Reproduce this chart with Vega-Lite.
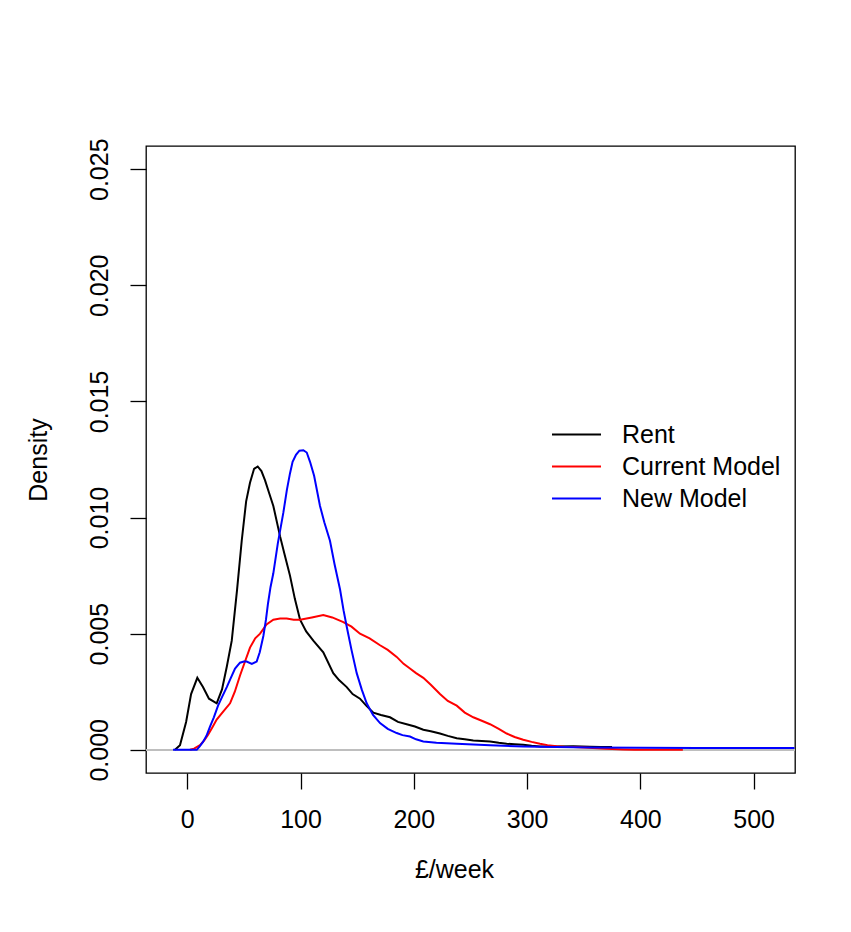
{
  "$schema": "https://vega.github.io/schema/vega-lite/v6.json",
  "width": 649,
  "height": 627,
  "autosize": {"type": "none"},
  "padding": {"left": 146, "top": 146, "right": 56, "bottom": 159},
  "background": "white",
  "config": {
    "font": "Liberation Sans",
    "view": {"stroke": "#000", "strokeWidth": 1.3},
    "axis": {"domain": false, "grid": false, "tickColor": "#000", "tickSize": 16, "tickWidth": 1.3, "labelFontSize": 25, "labelColor": "#000", "labelFont": "Liberation Sans", "titleFontSize": 25, "titleFontWeight": "normal", "titleColor": "#000", "titleFont": "Liberation Sans"}
  },
  "data": {"values": [
    {"x": -10.8, "d": 0, "s": "Rent"}, {"x": -6.4, "d": 0.0002, "s": "Rent"}, {"x": -1, "d": 0.0012, "s": "Rent"}, {"x": 3.4, "d": 0.0024, "s": "Rent"}, {"x": 8.9, "d": 0.0031, "s": "Rent"}, {"x": 13.9, "d": 0.0027, "s": "Rent"}, {"x": 19.2, "d": 0.0022, "s": "Rent"}, {"x": 26, "d": 0.002, "s": "Rent"}, {"x": 30.7, "d": 0.0026, "s": "Rent"}, {"x": 35, "d": 0.0036, "s": "Rent"}, {"x": 39.3, "d": 0.0047, "s": "Rent"}, {"x": 44, "d": 0.0069, "s": "Rent"}, {"x": 48.1, "d": 0.009, "s": "Rent"}, {"x": 52, "d": 0.0107, "s": "Rent"}, {"x": 55.4, "d": 0.0115, "s": "Rent"}, {"x": 59, "d": 0.0121, "s": "Rent"}, {"x": 62.2, "d": 0.0122, "s": "Rent"}, {"x": 65.5, "d": 0.012, "s": "Rent"}, {"x": 68.7, "d": 0.0116, "s": "Rent"}, {"x": 72, "d": 0.0111, "s": "Rent"}, {"x": 76, "d": 0.0105, "s": "Rent"}, {"x": 81.9, "d": 0.0092, "s": "Rent"}, {"x": 86, "d": 0.0084, "s": "Rent"}, {"x": 90.7, "d": 0.0075, "s": "Rent"}, {"x": 95, "d": 0.0065, "s": "Rent"}, {"x": 99.6, "d": 0.0056, "s": "Rent"}, {"x": 105, "d": 0.0051, "s": "Rent"}, {"x": 111.3, "d": 0.0047, "s": "Rent"}, {"x": 120.1, "d": 0.0042, "s": "Rent"}, {"x": 128.9, "d": 0.0033, "s": "Rent"}, {"x": 134, "d": 0.003, "s": "Rent"}, {"x": 140.8, "d": 0.0027, "s": "Rent"}, {"x": 146, "d": 0.0024, "s": "Rent"}, {"x": 152.5, "d": 0.0022, "s": "Rent"}, {"x": 158, "d": 0.0019, "s": "Rent"}, {"x": 164.3, "d": 0.0016, "s": "Rent"}, {"x": 171, "d": 0.0015, "s": "Rent"}, {"x": 179, "d": 0.0014, "s": "Rent"}, {"x": 186, "d": 0.0012, "s": "Rent"}, {"x": 193.7, "d": 0.0011, "s": "Rent"}, {"x": 201, "d": 0.001, "s": "Rent"}, {"x": 208.4, "d": 0.00086, "s": "Rent"}, {"x": 215, "d": 0.0008, "s": "Rent"}, {"x": 223.1, "d": 0.0007, "s": "Rent"}, {"x": 230, "d": 0.0006, "s": "Rent"}, {"x": 237.9, "d": 0.0005, "s": "Rent"}, {"x": 245, "d": 0.00045, "s": "Rent"}, {"x": 252.5, "d": 0.0004, "s": "Rent"}, {"x": 260, "d": 0.00038, "s": "Rent"}, {"x": 267.3, "d": 0.00036, "s": "Rent"}, {"x": 275, "d": 0.0003, "s": "Rent"}, {"x": 282, "d": 0.00026, "s": "Rent"}, {"x": 289, "d": 0.00024, "s": "Rent"}, {"x": 296.6, "d": 0.00022, "s": "Rent"}, {"x": 304, "d": 0.00017, "s": "Rent"}, {"x": 311.4, "d": 0.00014, "s": "Rent"}, {"x": 326.1, "d": 0.00014, "s": "Rent"}, {"x": 340.8, "d": 0.00015, "s": "Rent"}, {"x": 355.5, "d": 0.00013, "s": "Rent"}, {"x": 365, "d": 0.00012, "s": "Rent"}, {"x": 375, "d": 0.00012, "s": "Rent"},
    {"x": 2.5, "d": 0, "s": "Current Model"}, {"x": 6, "d": 0.00005, "s": "Current Model"}, {"x": 11.3, "d": 0.0002, "s": "Current Model"}, {"x": 15, "d": 0.0004, "s": "Current Model"}, {"x": 18.4, "d": 0.00065, "s": "Current Model"}, {"x": 22, "d": 0.00095, "s": "Current Model"}, {"x": 26, "d": 0.0013, "s": "Current Model"}, {"x": 31, "d": 0.0016, "s": "Current Model"}, {"x": 37.8, "d": 0.002, "s": "Current Model"}, {"x": 42, "d": 0.0025, "s": "Current Model"}, {"x": 46.6, "d": 0.0032, "s": "Current Model"}, {"x": 51, "d": 0.0038, "s": "Current Model"}, {"x": 55.4, "d": 0.0044, "s": "Current Model"}, {"x": 60, "d": 0.0048, "s": "Current Model"}, {"x": 64.3, "d": 0.005, "s": "Current Model"}, {"x": 70, "d": 0.0054, "s": "Current Model"}, {"x": 76, "d": 0.0056, "s": "Current Model"}, {"x": 82, "d": 0.00565, "s": "Current Model"}, {"x": 87.8, "d": 0.00565, "s": "Current Model"}, {"x": 94, "d": 0.0056, "s": "Current Model"}, {"x": 99.6, "d": 0.0056, "s": "Current Model"}, {"x": 110, "d": 0.0057, "s": "Current Model"}, {"x": 120.1, "d": 0.0058, "s": "Current Model"}, {"x": 128, "d": 0.0057, "s": "Current Model"}, {"x": 137.8, "d": 0.0055, "s": "Current Model"}, {"x": 145, "d": 0.0053, "s": "Current Model"}, {"x": 152.5, "d": 0.005, "s": "Current Model"}, {"x": 161, "d": 0.0048, "s": "Current Model"}, {"x": 170.2, "d": 0.0045, "s": "Current Model"}, {"x": 177, "d": 0.0043, "s": "Current Model"}, {"x": 184.9, "d": 0.004, "s": "Current Model"}, {"x": 191, "d": 0.0037, "s": "Current Model"}, {"x": 196.6, "d": 0.0035, "s": "Current Model"}, {"x": 202, "d": 0.0033, "s": "Current Model"}, {"x": 208.4, "d": 0.0031, "s": "Current Model"}, {"x": 215, "d": 0.0028, "s": "Current Model"}, {"x": 223.1, "d": 0.0024, "s": "Current Model"}, {"x": 230, "d": 0.0021, "s": "Current Model"}, {"x": 237.9, "d": 0.0019, "s": "Current Model"}, {"x": 245, "d": 0.0016, "s": "Current Model"}, {"x": 252.5, "d": 0.0014, "s": "Current Model"}, {"x": 260, "d": 0.00125, "s": "Current Model"}, {"x": 267.3, "d": 0.0011, "s": "Current Model"}, {"x": 275, "d": 0.0009, "s": "Current Model"}, {"x": 282, "d": 0.0007, "s": "Current Model"}, {"x": 289, "d": 0.00055, "s": "Current Model"}, {"x": 296.6, "d": 0.00043, "s": "Current Model"}, {"x": 304, "d": 0.00034, "s": "Current Model"}, {"x": 311.4, "d": 0.00026, "s": "Current Model"}, {"x": 318, "d": 0.0002, "s": "Current Model"}, {"x": 326.1, "d": 0.00015, "s": "Current Model"}, {"x": 333, "d": 0.00013, "s": "Current Model"}, {"x": 340.8, "d": 0.00012, "s": "Current Model"}, {"x": 350, "d": 0.0001, "s": "Current Model"}, {"x": 358, "d": 0.00008, "s": "Current Model"}, {"x": 370, "d": 0.00004, "s": "Current Model"}, {"x": 385, "d": 0.00001, "s": "Current Model"}, {"x": 395, "d": 0, "s": "Current Model"}, {"x": 437.5, "d": 0, "s": "Current Model"},
    {"x": -12.5, "d": 0, "s": "New Model"}, {"x": 8.4, "d": 0, "s": "New Model"}, {"x": 11, "d": 0.00015, "s": "New Model"}, {"x": 13.9, "d": 0.00034, "s": "New Model"}, {"x": 17, "d": 0.0006, "s": "New Model"}, {"x": 20.1, "d": 0.001, "s": "New Model"}, {"x": 23.5, "d": 0.0014, "s": "New Model"}, {"x": 27.2, "d": 0.0019, "s": "New Model"}, {"x": 31, "d": 0.0023, "s": "New Model"}, {"x": 34.9, "d": 0.0027, "s": "New Model"}, {"x": 38.5, "d": 0.0031, "s": "New Model"}, {"x": 42.2, "d": 0.0035, "s": "New Model"}, {"x": 46.6, "d": 0.00375, "s": "New Model"}, {"x": 50, "d": 0.0038, "s": "New Model"}, {"x": 52.5, "d": 0.0038, "s": "New Model"}, {"x": 57, "d": 0.0037, "s": "New Model"}, {"x": 61.3, "d": 0.0038, "s": "New Model"}, {"x": 64, "d": 0.0042, "s": "New Model"}, {"x": 67.2, "d": 0.0049, "s": "New Model"}, {"x": 69.5, "d": 0.0056, "s": "New Model"}, {"x": 71.3, "d": 0.0063, "s": "New Model"}, {"x": 73.5, "d": 0.007, "s": "New Model"}, {"x": 76, "d": 0.0076, "s": "New Model"}, {"x": 80, "d": 0.0089, "s": "New Model"}, {"x": 84.8, "d": 0.0102, "s": "New Model"}, {"x": 88, "d": 0.0112, "s": "New Model"}, {"x": 90.7, "d": 0.0119, "s": "New Model"}, {"x": 93, "d": 0.0124, "s": "New Model"}, {"x": 96, "d": 0.0127, "s": "New Model"}, {"x": 99, "d": 0.01288, "s": "New Model"}, {"x": 102.5, "d": 0.0129, "s": "New Model"}, {"x": 105.5, "d": 0.0128, "s": "New Model"}, {"x": 108.4, "d": 0.0124, "s": "New Model"}, {"x": 112, "d": 0.0118, "s": "New Model"}, {"x": 117.2, "d": 0.0105, "s": "New Model"}, {"x": 121, "d": 0.0098, "s": "New Model"}, {"x": 126, "d": 0.009, "s": "New Model"}, {"x": 130, "d": 0.008, "s": "New Model"}, {"x": 134.9, "d": 0.0069, "s": "New Model"}, {"x": 138, "d": 0.006, "s": "New Model"}, {"x": 140.8, "d": 0.0053, "s": "New Model"}, {"x": 145, "d": 0.0043, "s": "New Model"}, {"x": 149.6, "d": 0.0033, "s": "New Model"}, {"x": 154, "d": 0.0026, "s": "New Model"}, {"x": 158.4, "d": 0.002, "s": "New Model"}, {"x": 164, "d": 0.0015, "s": "New Model"}, {"x": 170.2, "d": 0.00115, "s": "New Model"}, {"x": 177, "d": 0.0009, "s": "New Model"}, {"x": 184.9, "d": 0.00072, "s": "New Model"}, {"x": 190, "d": 0.00063, "s": "New Model"}, {"x": 196.6, "d": 0.00057, "s": "New Model"}, {"x": 202, "d": 0.00045, "s": "New Model"}, {"x": 208.4, "d": 0.00036, "s": "New Model"}, {"x": 220, "d": 0.0003, "s": "New Model"}, {"x": 237.9, "d": 0.00026, "s": "New Model"}, {"x": 267.3, "d": 0.00019, "s": "New Model"}, {"x": 296.6, "d": 0.00014, "s": "New Model"}, {"x": 326.1, "d": 0.00012, "s": "New Model"}, {"x": 355.5, "d": 0.0001, "s": "New Model"}, {"x": 400, "d": 0.00009, "s": "New Model"}, {"x": 450, "d": 0.00008, "s": "New Model"}, {"x": 536, "d": 0.00008, "s": "New Model"}
  ]},
  "encoding": {
    "x": {"field": "x", "type": "quantitative", "scale": {"domain": [-36.4, 536.5], "nice": false, "zero": false},
      "axis": {"values": [0, 100, 200, 300, 400, 500], "title": "£/week", "labelPadding": 18, "titlePadding": 25, "titleX": 308}},
    "y": {"field": "d", "type": "quantitative", "scale": {"domain": [-0.001, 0.026], "nice": false, "zero": false},
      "axis": {"values": [0, 0.005, 0.01, 0.015, 0.02, 0.025], "format": ".3f", "title": "Density", "labelAngle": -90, "labelAlign": "center", "labelBaseline": "bottom", "labelPadding": 18, "titlePadding": 36}}
  },
  "layer": [
    {"mark": {"type": "rule", "color": "#bebebe", "strokeWidth": 1.5}, "encoding": {"y": {"datum": 0}, "x": null}},
    {"mark": {"type": "line", "clip": true},
      "encoding": {
        "color": {"field": "s", "type": "nominal", "scale": {"domain": ["Rent", "Current Model", "New Model"], "range": ["#000000", "#ff0000", "#0000ff"]},
          "legend": {"title": null, "orient": "none", "legendX": 417, "legendY": 275, "symbolType": "M-2,0H2", "symbolSize": 600, "symbolStrokeWidth": 3, "labelFontSize": 25, "labelFont": "Liberation Sans", "labelColor": "#000", "labelOffset": 32, "rowPadding": 5, "padding": 0}},
        "strokeWidth": {"field": "s", "type": "nominal", "scale": {"domain": ["Rent", "Current Model", "New Model"], "range": [2, 2, 1.5]}, "legend": null}
      }}
  ]
}
